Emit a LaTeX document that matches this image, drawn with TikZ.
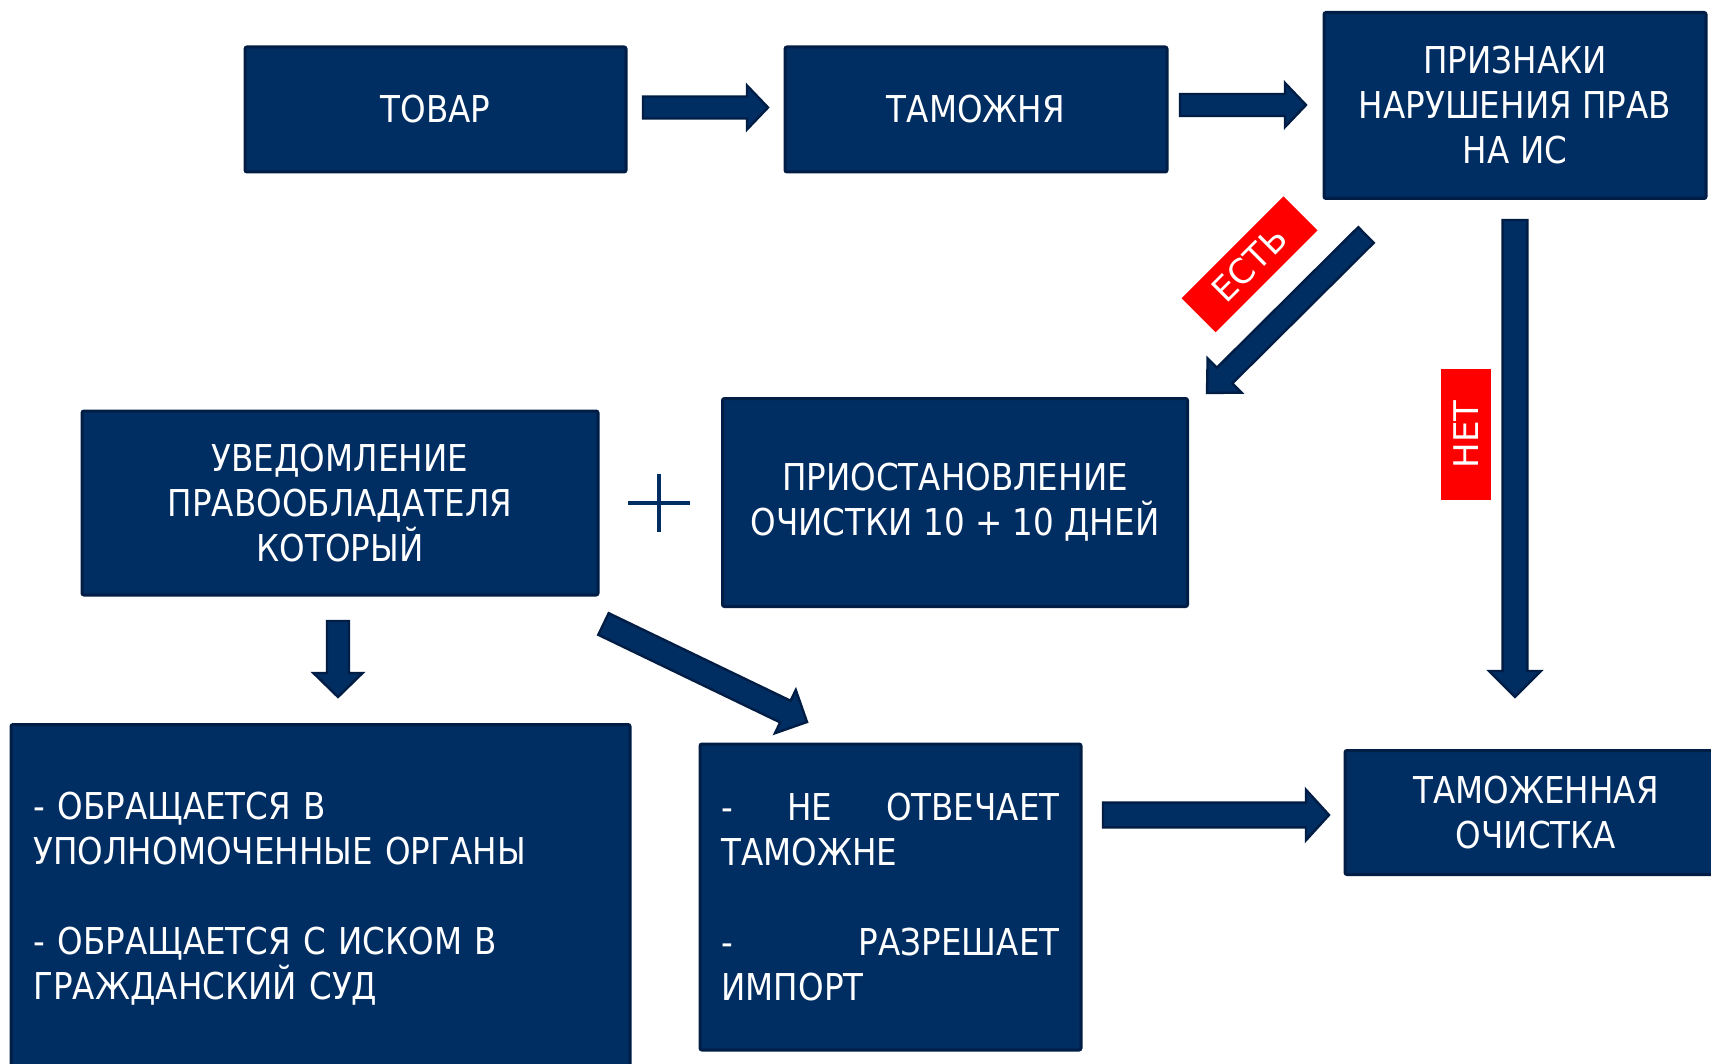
\documentclass[tikz,border=0pt]{standalone}
\usepackage{fontspec}
\newfontfamily\boxfont[FakeStretch=0.88]{DejaVu Sans}
\newfontfamily\labfont{DejaVu Sans}
\usetikzlibrary{calc}
\definecolor{navy}{HTML}{002D62}
\definecolor{navyline}{HTML}{001E45}
\definecolor{lblred}{HTML}{FF0000}
% block arrow: #1 from, #2 to, #3 shaft half-width, #4 head half-width, #5 head length
\newcommand\blockarrow[5]{%
  \draw[arr] let \p1=(#1), \p2=(#2),
    \n1={atan2(\y2-\y1,\x2-\x1)}, \n2={veclen(\x2-\x1,\y2-\y1)} in
    ($(\p1)+(\n1+90:#3)$)
    -- ($(\p1)+(\n1:{\n2-#5})+(\n1+90:#3)$)
    -- ($(\p1)+(\n1:{\n2-#5})+(\n1+90:#4)$)
    -- (\p2)
    -- ($(\p1)+(\n1:{\n2-#5})+(\n1-90:#4)$)
    -- ($(\p1)+(\n1:{\n2-#5})+(\n1-90:#3)$)
    -- ($(\p1)+(\n1-90:#3)$) -- cycle;}
\begin{document}
\begin{tikzpicture}[x=0.5pt,y=-0.5pt,
  box/.style={draw=navyline, fill=navy, line width=1.5pt, rounded corners=1pt,
    text=white, font=\boxfont\fontsize{18.5pt}{22.5pt}\selectfont,
    align=center, inner sep=0pt},
  arr/.style={fill=navy, draw=navyline, line width=1.2pt, line join=miter},
  lbl/.style={fill=lblred, text=white, font=\labfont\fontsize{17pt}{20pt}\selectfont, inner sep=0pt},
  plusline/.style={draw=navy, line width=2pt}]
\clip (0,0) rectangle (1711,1064);
\fill[white] (0,0) rectangle (1711,1064);

% boxes
\node[box, minimum width=190.5pt, minimum height=62.5pt] (tovar) at (435.5,109.5) {ТОВАР};
\node[box, minimum width=191pt, minimum height=62.5pt] (tam) at (976,109.5) {ТАМОЖНЯ};
\node[box, minimum width=191pt, minimum height=93pt] (prizn) at (1515,105.5)
  {ПРИЗНАКИ\\НАРУШЕНИЯ ПРАВ\\НА ИС};
\node[box, minimum width=258pt, minimum height=92pt] (uved) at (340,503)
  {УВЕДОМЛЕНИЕ\\ПРАВООБЛАДАТЕЛЯ\\КОТОРЫЙ};
\node[box, minimum width=232.5pt, minimum height=104pt] (prios) at (955,502.5)
  {ПРИОСТАНОВЛЕНИЕ\\ОЧИСТКИ 10 + 10 ДНЕЙ};
\node[box, minimum width=309.5pt, minimum height=174pt, text width=287pt, align=left] (obr) at (320.5,898.5)
  {- ОБРАЩАЕТСЯ В\\УПОЛНОМОЧЕННЫЕ ОРГАНЫ\\[22.5pt]- ОБРАЩАЕТСЯ С ИСКОМ В\\ГРАЖДАНСКИЙ СУД};
\node[box, minimum width=190.5pt, minimum height=153pt, text width=169pt, align=left] (neotv) at (890.5,897)
  {\makebox[169pt][s]{-\hfill НЕ\hfill ОТВЕЧАЕТ}\\ТАМОЖНЕ\\[22.5pt]\makebox[169pt][s]{-\hfill РАЗРЕШАЕТ}\\ИМПОРТ};
\node[box, minimum width=191pt, minimum height=62pt] (tamoch) at (1536,812.5)
  {ТАМОЖЕННАЯ\\ОЧИСТКА};

% plus sign
\draw[plusline] (628,503) -- (690,503);
\draw[plusline] (659,474) -- (659,532);

% arrow end points
\coordinate (a1s) at (643,107.5);   \coordinate (a1e) at (768,107.5);
\coordinate (a2s) at (1180,105);    \coordinate (a2e) at (1306,105);
\coordinate (yss) at (1366,235);    \coordinate (yse) at (1207,393);
\coordinate (nos) at (1515,220);    \coordinate (noe) at (1515,697);
\coordinate (dns) at (338,621);     \coordinate (dne) at (338,697);
\coordinate (dgs) at (603.5,624);   \coordinate (dge) at (807,722);
\coordinate (bts) at (1103,815);    \coordinate (bte) at (1329,815);

\blockarrow{a1s}{a1e}{5.5pt}{11pt}{10.5pt}
\blockarrow{a2s}{a2e}{5.5pt}{11pt}{10.5pt}
\blockarrow{yss}{yse}{5.5pt}{12pt}{12pt}
\blockarrow{nos}{noe}{6.2pt}{13pt}{13pt}
\blockarrow{dns}{dne}{5.5pt}{12.3pt}{12pt}
\blockarrow{dgs}{dge}{6pt}{12pt}{12pt}
\blockarrow{bts}{bte}{6.2pt}{12.6pt}{11.5pt}

% labels
\node[lbl, rotate=45, minimum width=72pt, minimum height=24pt] (yeslbl) at (1249.5,264.3) {ЕСТЬ};
\node[lbl, rotate=90, minimum width=65.5pt, minimum height=25pt] (nolbl) at (1466,434.5) {НЕТ};
\end{tikzpicture}
\end{document}
